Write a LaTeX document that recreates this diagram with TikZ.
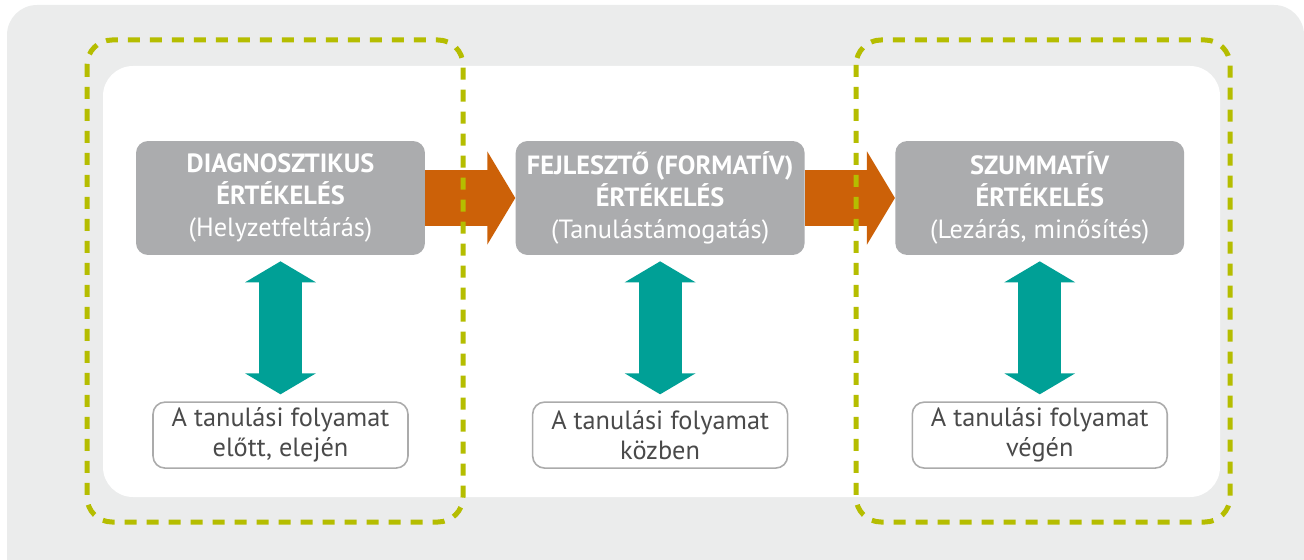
\documentclass[tikz,border=0pt]{standalone}
\usepackage{fontspec}
\setmainfont{PT Sans}
\usetikzlibrary{arrows.meta,positioning}
\definecolor{evbg}{HTML}{EBECEC}
\definecolor{evbox}{HTML}{ABACAE}
\definecolor{evorange}{HTML}{CC6108}
\definecolor{evteal}{HTML}{00A096}
\definecolor{evlime}{HTML}{B5BD00}
\definecolor{evrule}{HTML}{ABABAB}
\definecolor{evtext}{HTML}{4A4A4A}

\begin{document}
\begin{tikzpicture}[
  x=0.02cm, y=-0.02cm,
  stage/.style={fill=evbox, rounded corners=0.24cm, align=center, text=white,
                minimum width=5.78cm, minimum height=2.28cm, inner sep=0pt,
                font=\fontsize{15}{18.2}\selectfont},
  when/.style={draw=evrule, line width=0.9pt, fill=white, rounded corners=0.24cm,
               align=center, text=evtext, minimum width=5.1cm, minimum height=1.32cm,
               inner sep=0pt, font=\fontsize{15}{17}\selectfont},
  flow/.style={evorange, line width=1.12cm, -{Triangle[length=0.56cm, width=1.84cm]}},
  link/.style={evteal, line width=0.86cm,
               {Triangle[length=0.42cm, width=1.4cm]}-{Triangle[length=0.42cm, width=1.4cm]},
               shorten <=0.12cm, shorten >=0.14cm},
  phase/.style={evlime, line width=0.1cm, dash pattern=on 0.24cm off 0.2cm,
                rounded corners=0.5cm},
]
\clip (0,0) rectangle (1304,560);

% background panels
\fill[evbg, rounded corners=0.6cm] (7,5) rectangle (1304,620);
\fill[white, rounded corners=0.6cm] (103,66) rectangle (1220,497);

% stages
\node[stage] (diag) at (280.5,198)
  {\textbf{DIAGNOSZTIKUS}\\\textbf{ÉRTÉKELÉS}\\(Helyzetfeltárás)};
\node[stage, right=1.8cm of diag] (form)
  {\textbf{FEJLESZTŐ (FORMATÍV)}\\\textbf{ÉRTÉKELÉS}\\(Tanulástámogatás)};
\node[stage, right=1.8cm of form] (szum)
  {\textbf{SZUMMATÍV}\\\textbf{ÉRTÉKELÉS}\\(Lezárás, minősítés)};

% timing
\node[when, below=2.92cm of diag] (diagwhen) {A tanulási folyamat\\előtt, elején};
\node[when, below=2.92cm of form] (formwhen) {A tanulási folyamat\\közben};
\node[when, below=2.92cm of szum] (szumwhen) {A tanulási folyamat\\végén};

\draw[flow] (diag) -- (form);
\draw[flow] (form) -- (szum);

\draw[link] (diag) -- (diagwhen);
\draw[link] (form) -- (formwhen);
\draw[link] (szum) -- (szumwhen);

% phase frames
\draw[phase] (87,40) rectangle (463,522);
\draw[phase] (856,40) rectangle (1230,522);

\end{tikzpicture}
\end{document}
